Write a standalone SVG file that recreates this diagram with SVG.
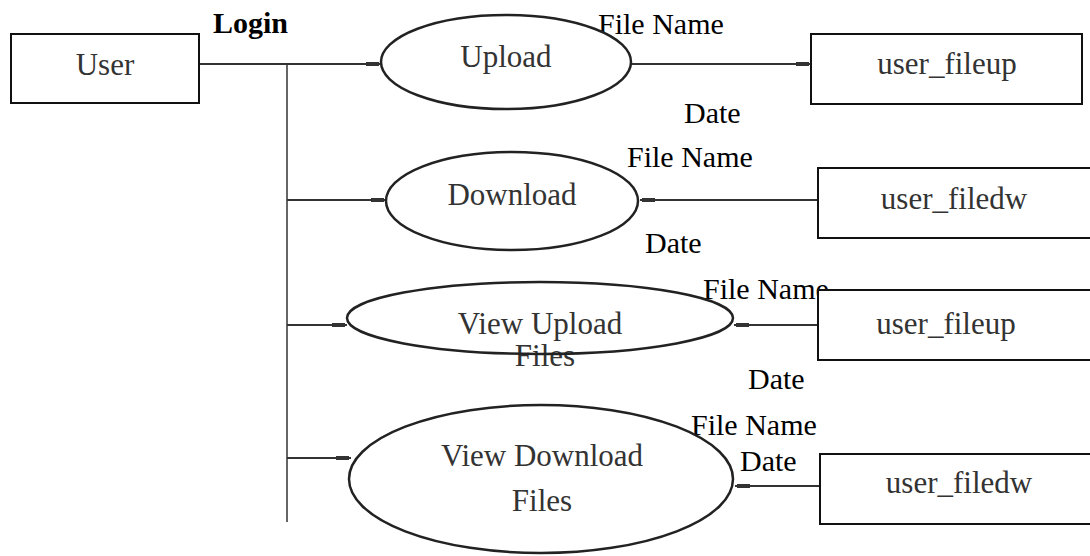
<svg xmlns="http://www.w3.org/2000/svg" width="1090" height="556" viewBox="0 0 1090 556">
  <style>
    .box { fill: #fff; stroke: #111; stroke-width: 2; }
    .proc { fill: #fff; stroke: #222; stroke-width: 2.5; }
    .node-text { font-family: "Liberation Serif", "Times New Roman", serif; font-size: 31px; fill: #333; text-anchor: middle; }
    .label { font-family: "Liberation Serif", "Times New Roman", serif; font-size: 30px; fill: #000; }
    .flow { stroke: #333; stroke-width: 2; fill: none; marker-end: url(#tip); }
    .trunk { stroke: #666; stroke-width: 2; fill: none; }
  </style>
  <defs>
    <marker id="tip" markerUnits="userSpaceOnUse" markerWidth="16" markerHeight="6" refX="15" refY="3" orient="auto">
      <rect x="0" y="1" width="13" height="4" fill="#333"/>
    </marker>
  </defs>
  <rect width="1090" height="556" fill="#fff"/>

  <!-- connectors -->
  <g id="connectors">
    <line class="trunk" x1="287" y1="64" x2="287" y2="522"/>
    <line class="flow" x1="199" y1="64" x2="381" y2="64"/>
    <line class="flow" x1="631" y1="64" x2="811" y2="64"/>
    <line class="flow" x1="287" y1="200" x2="386" y2="200"/>
    <line class="flow" x1="818" y1="200" x2="640" y2="200"/>
    <line class="flow" x1="287" y1="325" x2="347" y2="325"/>
    <line class="flow" x1="818" y1="325" x2="734" y2="325"/>
    <line class="flow" x1="287" y1="458" x2="351" y2="458"/>
    <line class="flow" x1="820" y1="486" x2="735" y2="486"/>
  </g>

  <!-- flow labels -->
  <g id="labels">
    <text class="label" x="213" y="33" font-weight="bold">Login</text>
    <text class="label" x="598" y="34">File Name</text>
    <text class="label" x="684" y="123">Date</text>
    <text class="label" x="627" y="167">File Name</text>
    <text class="label" x="645" y="253">Date</text>
    <text class="label" x="703" y="299">File Name</text>
    <text class="label" x="748" y="389">Date</text>
    <text class="label" x="691" y="435">File Name</text>
    <text class="label" x="740" y="471">Date</text>
  </g>

  <g id="user">
    <rect class="box" x="11" y="34" width="188" height="69"/>
    <text class="node-text" x="105" y="75">User</text>
  </g>

  <g id="upload">
    <ellipse class="proc" cx="506" cy="62" rx="125" ry="47"/>
    <text class="node-text" x="506" y="67">Upload</text>
  </g>

  <g id="download">
    <ellipse class="proc" cx="512" cy="201" rx="126" ry="49"/>
    <text class="node-text" x="512" y="205">Download</text>
  </g>

  <!-- the second caption line runs out of the ellipse; its outline is drawn over it -->
  <g id="view-upload">
    <text class="node-text" x="540" y="334">View Upload</text>
    <text class="node-text" x="545" y="366" font-size="26">Files</text>
    <ellipse class="proc" cx="540" cy="318" rx="193" ry="36" fill="none" style="fill:none"/>
  </g>

  <g id="view-download">
    <ellipse class="proc" cx="541" cy="479" rx="192" ry="74"/>
    <text class="node-text" x="542" y="466">View Download</text>
    <text class="node-text" x="542" y="511">Files</text>
  </g>

  <g id="user-fileup-1">
    <rect class="box" x="811" y="34" width="271" height="70"/>
    <text class="node-text" x="947" y="74">user_fileup</text>
  </g>

  <g id="user-filedw-1">
    <rect class="box" x="818" y="168" width="274" height="70"/>
    <text class="node-text" x="954" y="209">user_filedw</text>
  </g>

  <g id="user-fileup-2">
    <rect class="box" x="818" y="290" width="274" height="70"/>
    <text class="node-text" x="946" y="334">user_fileup</text>
  </g>

  <g id="user-filedw-2">
    <rect class="box" x="820" y="454" width="272" height="70"/>
    <text class="node-text" x="959" y="493">user_filedw</text>
  </g>
</svg>
